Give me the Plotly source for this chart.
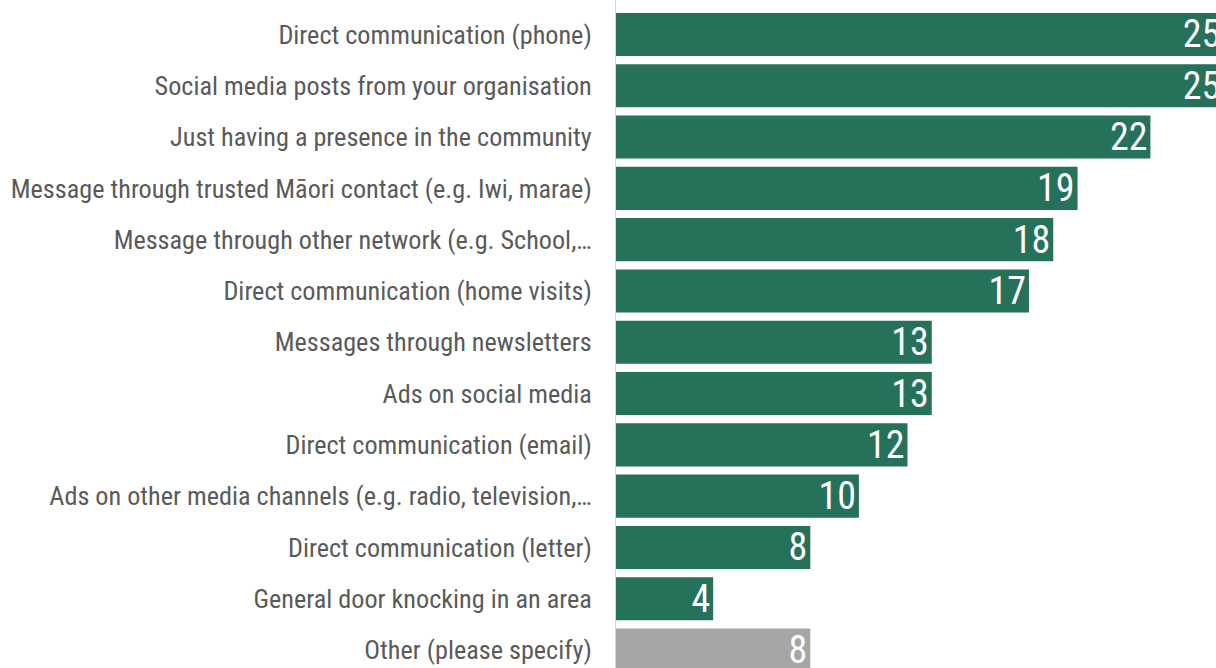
import plotly.graph_objects as go

categories = [
    "Direct communication (phone)",
    "Social media posts from your organisation",
    "Just having a presence in the community",
    "Message through trusted Māori contact (e.g. Iwi, marae)",
    "Message through other network (e.g. School,…",
    "Direct communication (home visits)",
    "Messages through newsletters",
    "Ads on social media",
    "Direct communication (email)",
    "Ads on other media channels (e.g. radio, television,…",
    "Direct communication (letter)",
    "General door knocking in an area",
    "Other (please specify)",
]
values = [25, 25, 22, 19, 18, 17, 13, 13, 12, 10, 8, 4, 8]

GREEN = "#26715A"
GREY = "#A6A6A6"
colors = [GREY if c.startswith("Other") else GREEN for c in categories]

FONT = "Liberation Sans Narrow, Arial Narrow, Roboto Condensed, Liberation Sans, sans-serif"

fig = go.Figure(
    go.Bar(
        x=values,
        y=categories,
        orientation="h",
        marker=dict(color=colors, line=dict(width=0)),
        width=0.84,
        text=values,
        textposition="inside",
        insidetextanchor="end",
        textangle=0,
        constraintext="none",
        textfont=dict(color="white", size=38, family=FONT),
        cliponaxis=True,
    )
)

fig.update_layout(
    width=1216,
    height=668,
    margin=dict(l=616, r=0, t=0, b=0, autoexpand=False),
    paper_bgcolor="white",
    plot_bgcolor="white",
    showlegend=False,
    font=dict(family=FONT, color="#5A5A5A", size=26),
)
fig.update_xaxes(
    range=[0, 24.7],
    showgrid=False,
    zeroline=False,
    showticklabels=False,
    showline=False,
)
fig.update_yaxes(
    categoryorder="array",
    categoryarray=categories,
    range=[12.35, -0.672],
    showgrid=False,
    zeroline=False,
    showline=True,
    linecolor="#D9D9D9",
    linewidth=1,
    ticks="",
    ticklabelstandoff=18,
    tickfont=dict(size=26.2, color="#5A5A5A", family=FONT),
)

fig.write_html(
    "out.html",
    config={"displayModeBar": False},
    post_script="document.body.style.margin='0';document.body.style.overflow='hidden';",
)
